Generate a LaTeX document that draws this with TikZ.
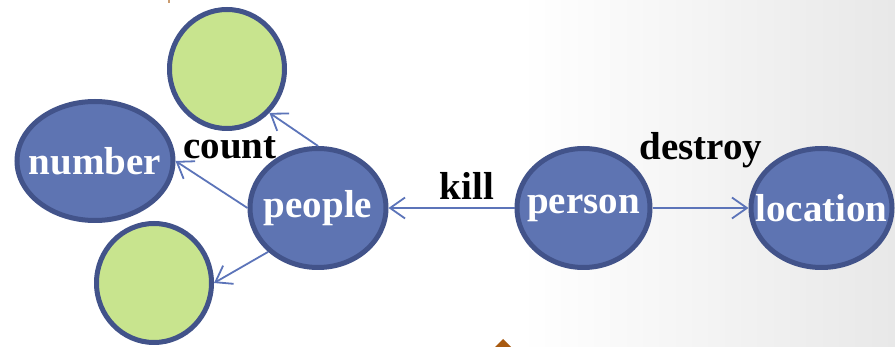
\documentclass[tikz,border=0pt]{standalone}
\usepackage{fontspec}
\setmainfont{Liberation Serif}
\usetikzlibrary{positioning,arrows.meta,shapes.geometric}
\definecolor{entblue}{RGB}{94,116,178}
\definecolor{entline}{RGB}{66,83,138}
\definecolor{slotgreen}{RGB}{200,228,142}
\definecolor{edgeblue}{RGB}{92,116,185}
\definecolor{markorange}{RGB}{168,90,16}
\tikzset{
  main/.style={ellipse, draw=entline, line width=5pt, inner sep=0pt, minimum height=119pt},
  entity/.style={main, fill=entblue, text=white, font=\fontsize{39}{45}\selectfont\bfseries},
  slot/.style={main, fill=slotgreen, minimum width=115pt},
  connect/.style={draw=edgeblue, line width=1.8pt, -{Straight Barb[length=15pt,width=21pt]}},
  rel/.style={anchor=base, font=\fontsize{39}{45}\selectfont\bfseries}
}
\begin{document}
\begin{tikzpicture}[x=1pt, y=-1pt]
		\useasboundingbox (0,0) rectangle (895,347);
		\shade[left color=white, right color=black!9] (520,0) rectangle (895,347);
		\fill[markorange] (495,347) -- (503,339) -- (511,347) -- cycle;
		\fill[markorange!60] (168,0) rectangle (170,3);
		\node[entity, minimum width=136pt] (people) at (318,208) {\makebox[0pt]{people}};
		\node[entity, minimum width=133pt, right=126pt of people] (person) {\makebox[0pt]{person}};
		\node[entity, minimum width=141pt, right=96pt of person] (location) {\makebox[0pt]{location}};
		\node[entity, minimum width=156pt] (number) at (95,161) {\makebox[0pt]{number}};
		\node[slot] (topslot) at (227,69) {};
		\node[slot] (lowslot) at (154,283) {};
		\path (people.north) edge [connect] (topslot.south east);
		\path (people.west) edge [connect] (number.east);
		\path (people.south west) edge [connect] (lowslot.east);
		\path (person.west) edge [connect] (people.east);
		\path (person.east) edge [connect] (location.west);
		\node[rel] (count) at (230,159) {count};
		\node[rel] (kill) at (467,200) {kill};
		\node[rel] (destroy) at (701,160) {destroy};
	\end{tikzpicture}
\end{document}
